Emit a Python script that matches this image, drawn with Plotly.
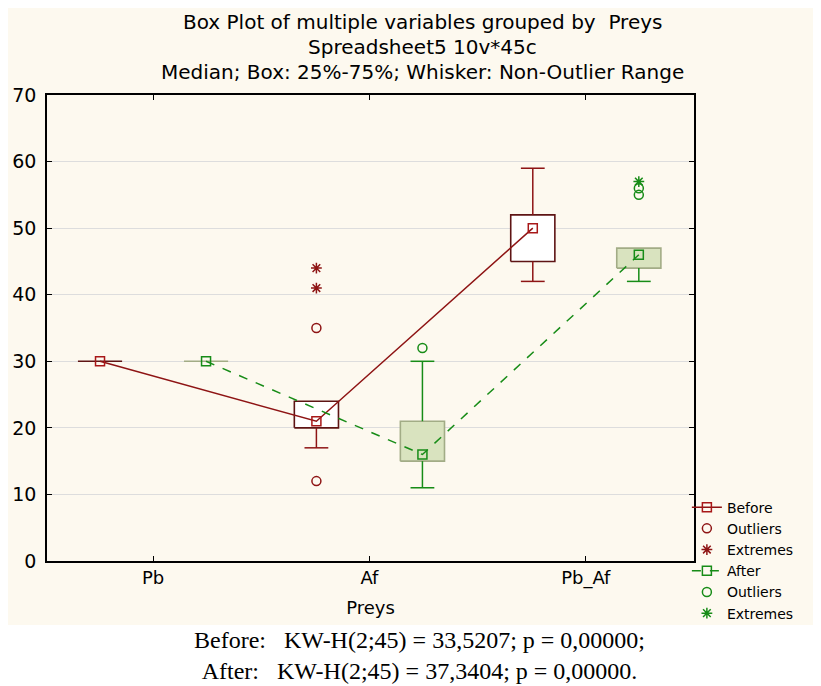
import plotly.graph_objects as go

# ---------------- data ----------------
categories = ["Pb", "Af", "Pb_Af"]

before_median = [30, 21, 50]
before_q1 = [30, 20, 45]
before_q3 = [30, 24, 52]
before_low = [30, 17, 42]
before_high = [30, 24, 59]

after_median = [30, 16, 46]
after_q1 = [30, 15, 44]
after_q3 = [30, 21, 47]
after_low = [30, 11, 42]
after_high = [30, 30, 47]

before_outlier_cat = ["Af", "Af"]
before_outlier_val = [35, 12]
before_extreme_cat = ["Af", "Af"]
before_extreme_val = [41, 44]

after_outlier_cat = ["Af", "Pb_Af", "Pb_Af"]
after_outlier_val = [32, 55, 56]
after_extreme_cat = ["Pb_Af"]
after_extreme_val = [57]

# ---------------- style ----------------
OFFSET = 0.245
BOX_HW = 0.102
CAP_HW = 0.055
FONT = "DejaVu Sans"
RED = "#8E1414"
RED_BOX = "#5E1414"
GREEN = "#178C17"
GREEN_BOX = "#A2AC86"
GREEN_FILL = "#D9E3BF"
CREAM = "#FDF9EF"

idx = {c: i for i, c in enumerate(categories)}


def box_path(xs, q1, q3):
    px, py = [], []
    for x, a, b in zip(xs, q1, q3):
        px += [x - BOX_HW, x + BOX_HW, x + BOX_HW, x - BOX_HW, x - BOX_HW, None]
        py += [a, a, b, b, a, None]
    return px, py


def whisker_path(xs, q1, q3, low, high):
    px, py = [], []
    for x, a, b, lo, hi in zip(xs, q1, q3, low, high):
        if hi > b:
            px += [x, x, None, x - CAP_HW, x + CAP_HW, None]
            py += [b, hi, None, hi, hi, None]
        if lo < a:
            px += [x, x, None, x - CAP_HW, x + CAP_HW, None]
            py += [a, lo, None, lo, lo, None]
    return px, py


xb = [i - OFFSET for i in range(len(categories))]
xa = [i + OFFSET for i in range(len(categories))]

fig = go.Figure()

# Before
bx, by = box_path(xb, before_q1, before_q3)
fig.add_trace(go.Scatter(x=bx, y=by, mode="lines", fill="toself", fillcolor="white",
                         line=dict(color=RED_BOX, width=1.6), name="Before",
                         showlegend=False, legendgroup="before"))
wx, wy = whisker_path(xb, before_q1, before_q3, before_low, before_high)
fig.add_trace(go.Scatter(x=wx, y=wy, mode="lines", line=dict(color=RED, width=1.5),
                         showlegend=False, legendgroup="before"))
fig.add_trace(go.Scatter(x=xb, y=before_median, mode="lines+markers", name="Before",
                         legendgroup="before", legendrank=1,
                         line=dict(color=RED, width=1.5),
                         marker=dict(symbol="square-open", size=9, color="#A81818",
                                     line=dict(width=1.5))))
fig.add_trace(go.Scatter(x=[idx[c] - OFFSET for c in before_outlier_cat], y=before_outlier_val,
                         mode="markers", name="Outliers", legendrank=2,
                         marker=dict(symbol="circle-open", size=9, color=RED,
                                     line=dict(width=1.5))))
fig.add_trace(go.Scatter(x=[idx[c] - OFFSET for c in before_extreme_cat], y=before_extreme_val,
                         mode="markers", name="Extremes", legendrank=3,
                         marker=dict(symbol="asterisk-open", size=9, color=RED,
                                     line=dict(width=1.5, color=RED))))

# After
ax_, ay_ = box_path(xa, after_q1, after_q3)
fig.add_trace(go.Scatter(x=ax_, y=ay_, mode="lines", fill="toself", fillcolor=GREEN_FILL,
                         line=dict(color=GREEN_BOX, width=1.6), name="After",
                         showlegend=False, legendgroup="after"))
wx, wy = whisker_path(xa, after_q1, after_q3, after_low, after_high)
fig.add_trace(go.Scatter(x=wx, y=wy, mode="lines", line=dict(color=GREEN, width=1.5),
                         showlegend=False, legendgroup="after"))
fig.add_trace(go.Scatter(x=xa, y=after_median, mode="lines+markers", name="After",
                         legendgroup="after", legendrank=4,
                         line=dict(color=GREEN, width=1.5, dash="dash"),
                         marker=dict(symbol="square-open", size=9, color=GREEN,
                                     line=dict(width=1.5))))
fig.add_trace(go.Scatter(x=[idx[c] + OFFSET for c in after_outlier_cat], y=after_outlier_val,
                         mode="markers", name="Outliers", legendrank=5,
                         marker=dict(symbol="circle-open", size=9, color=GREEN,
                                     line=dict(width=1.5))))
fig.add_trace(go.Scatter(x=[idx[c] + OFFSET for c in after_extreme_cat], y=after_extreme_val,
                         mode="markers", name="Extremes", legendrank=6,
                         marker=dict(symbol="asterisk-open", size=9, color=GREEN,
                                     line=dict(width=1.5, color=GREEN))))

title_lines = ["Box Plot of multiple variables grouped by  Preys",
               "Spreadsheet5 10v*45c",
               "Median; Box: 25%-75%; Whisker: Non-Outlier Range"]
title_y = [1.157, 1.103, 1.049]
annotations = [dict(text=t, x=0.581, y=y, xref="paper", yref="paper", showarrow=False,
                    xanchor="center", yanchor="middle",
                    font=dict(family=FONT, size=20, color="black"))
               for t, y in zip(title_lines, title_y)]

kw_text = ("Before:\u00a0\u00a0\u00a0KW-H(2;45) = 33,5207; p = 0,00000;<br>"
           "After:\u00a0\u00a0\u00a0KW-H(2;45) = 37,3404; p = 0,00000.")
annotations.append(dict(text=kw_text, x=0.575, y=-0.2028, xref="paper", yref="paper",
                        showarrow=False, xanchor="center", yanchor="middle", align="center",
                        font=dict(family="Liberation Serif", size=24, color="black")))

# page body adds an 8px offset, so the figure is 8px smaller than the window
fig.update_layout(
    width=813, height=678,
    margin=dict(l=39, r=127, t=87, b=125),
    paper_bgcolor="white",
    plot_bgcolor="white",
    font=dict(family=FONT, size=18, color="black"),
    showlegend=True,
    legend=dict(x=0.989, y=0.149, xanchor="left", yanchor="top",
                bgcolor="rgba(0,0,0,0)", borderwidth=0, itemwidth=30,
                tracegroupgap=0, font=dict(family=FONT, size=14, color="black")),
    annotations=annotations,
    shapes=[dict(type="rect", xref="paper", yref="paper", x0=-0.0603, x1=1.196,
                 y0=-0.1373, y1=1.191, fillcolor=CREAM, line=dict(width=0), layer="below")],
)

fig.update_xaxes(range=[-0.49, 2.5], tickvals=list(range(len(categories))), ticktext=categories,
                 showgrid=False, zeroline=False, showline=True, linecolor="black", linewidth=1.5,
                 mirror="ticks", ticks="inside", ticklen=5, tickcolor="black", automargin=False,
                 title=dict(text="Preys", standoff=13, font=dict(family=FONT, size=18)),
                 tickfont=dict(family=FONT, size=18))
fig.update_yaxes(range=[0, 70], dtick=10, showgrid=True, gridcolor="#DDDDDD", zeroline=False,
                 showline=True, linecolor="black", linewidth=1.5, mirror="ticks",
                 ticks="inside", ticklen=5, tickcolor="black", automargin=False,
                 ticklabelstandoff=5,
                 tickfont=dict(family=FONT, size=19))

fig.write_html("out.html")
